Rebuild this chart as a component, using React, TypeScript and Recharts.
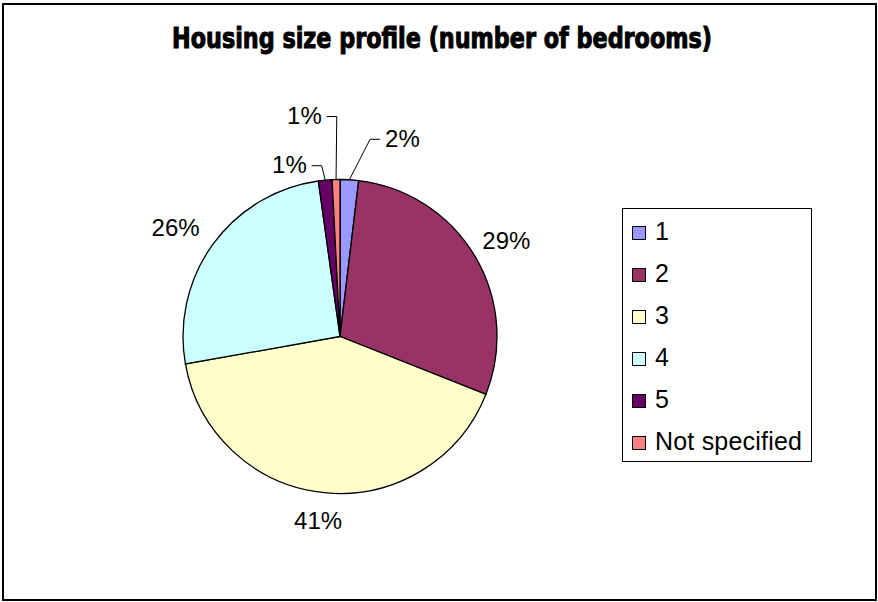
import React from "react";
import { PieChart, Pie, Cell, Legend } from "recharts";

// ---- data ----
const categories = ["1", "2", "3", "4", "5", "Not specified"];
const shares = [1.9, 29.1, 41.2, 25.6, 1.4, 0.8];
const colors = ["#9999FF", "#993366", "#FFFFCC", "#CCFFFF", "#660066", "#FF8080"];
const title = "Housing size profile (number of bedrooms)";

const data = categories.map((name, i) => ({ name, value: shares[i] }));

// ---- label layout (style only) ----
const RAD = Math.PI / 180;
const LABEL_FONT = "'Liberation Sans', Arial, sans-serif";
// leader lines for thin slices: elbow offset from slice's outer midpoint, then horizontal run
const leaders: Record<number, { dx: number; dy: number; dir: number }> = {
  0: { dx: 20.7, dy: -40.5, dir: 1 },
  4: { dx: -3.5, dy: -14.5, dir: -1 },
  5: { dx: 0.7, dy: -63, dir: -1 },
};
const nudges: Record<number, { dx: number; dy: number }> = {
  1: { dx: 2, dy: 2 },
  2: { dx: -4, dy: 7 },
  3: { dx: -10, dy: 3 },
};

const renderLabel = (props: any) => {
  const { cx, cy, midAngle, outerRadius, percent, index } = props;
  const c = Math.cos(-midAngle * RAD);
  const s = Math.sin(-midAngle * RAD);
  const sx = cx + outerRadius * c;
  const sy = cy + outerRadius * s;
  const txt = `${Math.round(percent * 100)}%`;
  const lead = leaders[index];
  if (lead) {
    const ex = sx + lead.dx;
    const ey = sy + lead.dy;
    const hx = ex + lead.dir * 10;
    const tx = hx + lead.dir * 5;
    return (
      <g key={`lbl-${index}`}>
        <polyline
          points={`${sx},${sy} ${ex},${ey} ${hx},${ey}`}
          fill="none"
          stroke="#000"
          strokeWidth={1}
        />
        <text
          x={tx}
          y={ey - 1}
          textAnchor={lead.dir > 0 ? "start" : "end"}
          dominantBaseline="central"
          fontFamily={LABEL_FONT}
          fontSize={24}
          fill="#000"
        >
          {txt}
        </text>
      </g>
    );
  }
  const hw = txt.length * 8;
  const hh = 11;
  const d = outerRadius + 8 + hw * Math.abs(c) + hh * Math.abs(s);
  const n = nudges[index] || { dx: 0, dy: 0 };
  const x = cx + d * c + n.dx;
  const y = cy + d * s + n.dy;
  return (
    <text
      key={`lbl-${index}`}
      x={x}
      y={y}
      textAnchor="middle"
      dominantBaseline="central"
      fontFamily={LABEL_FONT}
      fontSize={24}
      fill="#000"
    >
      {txt}
    </text>
  );
};

const renderLegend = (props: any) => {
  const payload = props.payload || [];
  return (
    <div
      style={{
        boxSizing: "border-box",
        width: 190,
        height: 254,
        border: "1px solid #000",
        background: "#fff",
        paddingTop: 1,
        fontFamily: LABEL_FONT,
        fontSize: 25,
        color: "#000",
      }}
    >
      {payload.map((p: any, i: number) => (
        <div
          key={`leg-${i}`}
          style={{ height: 42, display: "flex", alignItems: "center", paddingLeft: 9 }}
        >
          <span
            style={{
              display: "inline-block",
              boxSizing: "border-box",
              width: 14,
              height: 14,
              border: "1px solid #000",
              background: p.color || colors[i],
              marginTop: 4,
              marginRight: 9,
            }}
          />
          <span style={{ lineHeight: "28px", letterSpacing: 0.2 }}>{p.value}</span>
        </div>
      ))}
    </div>
  );
};

export default function App() {
  return (
    <div
      style={{
        position: "absolute",
        left: 0,
        top: 0,
        width: 878,
        height: 602,
        background: "#fff",
        overflow: "hidden",
      }}
    >
      <PieChart width={878} height={602} margin={{ top: 0, right: 0, bottom: 0, left: 0 }}>
        <Pie
          data={data}
          dataKey="value"
          nameKey="name"
          cx={340}
          cy={336.5}
          outerRadius={157}
          startAngle={90}
          endAngle={-270}
          stroke="#000"
          strokeWidth={1.3}
          label={renderLabel}
          labelLine={false}
          isAnimationActive={false}
        >
          {data.map((d, i) => (
            <Cell key={`cell-${d.name}`} fill={colors[i]} />
          ))}
        </Pie>
        <Legend
          content={renderLegend}
          layout="vertical"
          align="right"
          verticalAlign="top"
          wrapperStyle={{ left: 622, top: 208, width: 190, height: 254 }}
        />
      </PieChart>
      <svg
        width={878}
        height={602}
        style={{ position: "absolute", left: 0, top: 0, pointerEvents: "none" }}
      >
        <rect x={3} y={4} width={873} height={596} fill="none" stroke="#000" strokeWidth={2} />
        <text
          x={172}
          y={48}
          textLength={540}
          lengthAdjust="spacingAndGlyphs"
          fontFamily="'DejaVu Sans Condensed', 'DejaVu Sans', sans-serif"
          fontWeight="bold"
          fontSize={28}
          stroke="#000"
          strokeWidth={1}
          fill="#000"
        >
          {title}
        </text>
      </svg>
    </div>
  );
}
